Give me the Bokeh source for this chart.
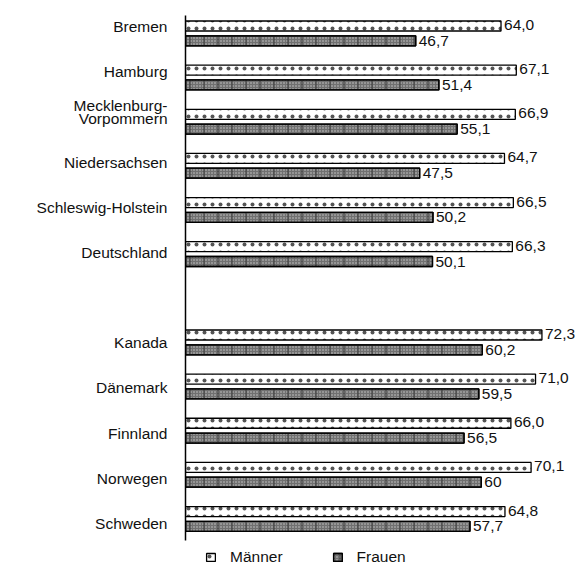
from bokeh.plotting import figure
from bokeh.models import ColumnDataSource, Range1d, FixedTicker, Legend, LegendItem
from bokeh.core.properties import value
from bokeh.embed import file_html
from bokeh.resources import INLINE

# ---- data ----
group_de = ["Bremen", "Hamburg", ["Mecklenburg-", "Vorpommern"], "Niedersachsen",
            "Schleswig-Holstein", "Deutschland"]
group_intl = ["Kanada", "Dänemark", "Finnland", "Norwegen", "Schweden"]
maenner = [64.0, 67.1, 66.9, 64.7, 66.5, 66.3, 72.3, 71.0, 66.0, 70.1, 64.8]
frauen = [46.7, 51.4, 55.1, 47.5, 50.2, 50.1, 60.2, 59.5, 56.5, 60.0, 57.7]
maenner_labels = ["64,0", "67,1", "66,9", "64,7", "66,5", "66,3", "72,3", "71,0", "66,0", "70,1", "64,8"]
frauen_labels = ["46,7", "51,4", "55,1", "47,5", "50,2", "50,1", "60,2", "59,5", "56,5", "60", "57,7"]

categories = group_de + group_intl
pos = list(range(len(group_de))) + [len(group_de) + 1 + i for i in range(len(group_intl))]

# ---- layout (pixels) ----
PITCH = 44.14          # px per slot for the bars
LABEL_PITCH = 45.18    # px per slot for the category labels
HALF = 7.4 / PITCH     # half distance between the two bars of a slot
bar_h = 10 / PITCH
SLOT0 = 32.9           # page y of first slot centre
FRAME_TOP = 15
AXIS_END = 540
FRAME_BOTTOM = 571

def ypx(py):
    return (py - SLOT0) / PITCH

ticks, overrides = [], {}
for p_, c in zip(pos, categories):
    centre = 26 + LABEL_PITCH * p_
    if isinstance(c, list):
        for k, line in enumerate(c):
            t = round(ypx(centre - 11.4 + 13 * k), 4)
            ticks.append(t)
            overrides[t] = line
    else:
        t = round(ypx(centre), 4)
        ticks.append(t)
        overrides[t] = c

src = ColumnDataSource(dict(
    ym=[p_ - HALF for p_ in pos],
    yf=[p_ + HALF for p_ in pos],
    m=maenner, f=frauen, ml=maenner_labels, fl=frauen_labels,
))

FONT = "Liberation Sans"
FS = "15.5px"

p = figure(width=586, height=571, output_backend="svg", toolbar_location=None,
           x_range=Range1d(0, 401 / 4.93),
           y_range=Range1d(ypx(FRAME_BOTTOM), ypx(FRAME_TOP)),
           min_border_left=185, min_border_right=0, min_border_top=FRAME_TOP, min_border_bottom=0)
p.outline_line_color = None
p.xgrid.visible = False
p.ygrid.visible = False
p.xaxis.visible = False

yax = p.yaxis[0]
yax.ticker = FixedTicker(ticks=ticks)
yax.bounds = (ypx(FRAME_TOP), ypx(AXIS_END))
yax.major_label_overrides = overrides
yax.major_tick_line_color = None
yax.minor_tick_line_color = None
yax.axis_line_color = "black"
yax.axis_line_width = 1.5
yax.major_label_standoff = 12
yax.major_label_text_font = FONT
yax.major_label_text_font_size = FS
yax.major_label_text_color = "#111111"

rm = p.hbar(y="ym", left=0, right="m", height=bar_h, source=src,
            fill_color="white", line_color="black", line_width=1.3,
            hatch_pattern="dot", hatch_color="#555555", hatch_scale=8, hatch_weight=0.9)
rf1 = p.hbar(y="yf", left=0, right="f", height=bar_h, source=src,
             fill_color="#707070", line_color="black", line_width=1.3,
             hatch_pattern="dot", hatch_color="#cccccc", hatch_scale=3, hatch_weight=1)
rf2 = p.hbar(y="yf", left=0, right="f", height=bar_h, source=src,
             fill_alpha=0, line_color="black", line_width=1.3,
             hatch_pattern="vertical_line", hatch_color="#333333", hatch_scale=14, hatch_weight=1)

p.text(x="m", y="ym", text="ml", source=src, x_offset=3, y_offset=-1,
       text_baseline="middle", text_font=value(FONT), text_font_size=FS, text_color="#111111")
p.text(x="f", y="yf", text="fl", source=src, x_offset=3, y_offset=0,
       text_baseline="middle", text_font=value(FONT), text_font_size=FS, text_color="#111111")

legend = Legend(items=[LegendItem(label="Männer", renderers=[rm]),
                       LegendItem(label="Frauen", renderers=[rf1, rf2])],
                orientation="horizontal", location=(20, 4),
                margin=0, padding=0, spacing=49,
                glyph_width=11, glyph_height=10, label_standoff=14, label_height=20,
                label_text_font=FONT, label_text_font_size=FS,
                label_text_baseline="top", label_text_color="#111111",
                border_line_color=None, background_fill_alpha=0)
p.add_layout(legend)

open("out.html", "w").write(file_html(p, INLINE))
